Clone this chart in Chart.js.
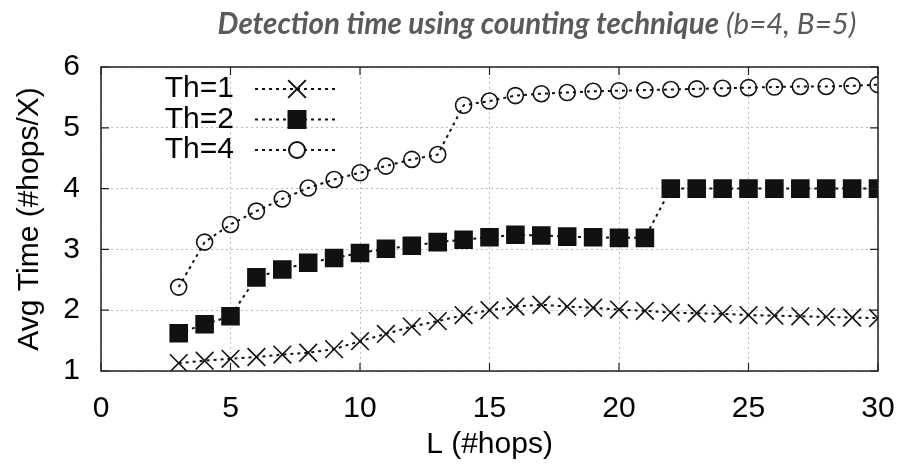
<!DOCTYPE html>
<html>
<head>
<meta charset="utf-8">
<script src="https://cdn.jsdelivr.net/npm/chart.js@4.4.1/dist/chart.umd.min.js"></script>
<style>
  html, body { margin: 0; padding: 0; background: #fff; }
</style>
</head>
<body>
<canvas id="chart" width="899" height="467"></canvas>
<script>
// path length L in hops
const hops = [3, 4, 5, 6, 7, 8, 9, 10, 11, 12, 13, 14, 15, 16, 17, 18, 19, 20, 21, 22, 23, 24, 25, 26, 27, 28, 29, 30]

// average detection time per threshold
const th1 = [1.13, 1.17, 1.20, 1.23, 1.27, 1.30, 1.36, 1.49, 1.61, 1.73, 1.82, 1.92, 2.00, 2.06, 2.09, 2.06, 2.04, 2.01, 1.99, 1.96, 1.95, 1.94, 1.92, 1.91, 1.90, 1.89, 1.88, 1.87]
const th2 = [1.62, 1.77, 1.90, 2.54, 2.67, 2.78, 2.86, 2.94, 3.01, 3.06, 3.12, 3.16, 3.20, 3.24, 3.23, 3.21, 3.20, 3.19, 3.19, 4.00, 4.00, 4.00, 4.00, 4.00, 4.00, 4.00, 4.00, 4.00]
const th4 = [2.38, 3.12, 3.41, 3.63, 3.83, 4.01, 4.15, 4.26, 4.37, 4.48, 4.56, 5.37, 5.44, 5.53, 5.56, 5.58, 5.60, 5.61, 5.62, 5.63, 5.64, 5.65, 5.66, 5.67, 5.68, 5.68, 5.69, 5.71]

const seriesNames = ["Th=1", "Th=2", "Th=4"]
const xTicks = [0, 5, 10, 15, 20, 25, 30]
const yTicks = [1, 2, 3, 4, 5, 6]

const axisFont = { family: "'Liberation Sans', Arial, sans-serif", size: 30 }
const titleFont = "29.5px Lato, 'Open Sans', sans-serif"

function pts(vals) {
    return hops.map((h, i) => ({ x: h, y: vals[i] }))
}

function series(label, vals, style, radius) {
    return {
        label: label,
        data: pts(vals),
        borderColor: "#111",
        borderWidth: 2,
        borderDash: [3, 4],
        pointStyle: style,
        pointRadius: radius,
        pointBorderColor: "#111",
        pointBorderWidth: 1.6,
        pointBackgroundColor: style == "rect" ? "#111" : "rgba(0,0,0,0)",
        tension: 0
    }
}

// plot frame with inward tick marks, like gnuplot
const framePlugin = {
    id: "frame",
    afterDraw(chart) {
        const ctx = chart.ctx
        const a = chart.chartArea
        const xs = chart.scales.x, ys = chart.scales.y
        ctx.save()
        ctx.strokeStyle = "#222"
        ctx.lineWidth = 1.5
        ctx.strokeRect(a.left, a.top, a.right - a.left, a.bottom - a.top)
        ctx.lineWidth = 1.2
        ctx.beginPath()
        for (v of xTicks) {
            const px = xs.getPixelForValue(v)
            ctx.moveTo(px, a.bottom); ctx.lineTo(px, a.bottom - 8)
            ctx.moveTo(px, a.top); ctx.lineTo(px, a.top + 8)
        }
        for (v of yTicks) {
            const py = ys.getPixelForValue(v)
            ctx.moveTo(a.left, py); ctx.lineTo(a.left + 8, py)
            ctx.moveTo(a.right, py); ctx.lineTo(a.right - 8, py)
        }
        ctx.stroke()
        ctx.restore()
    }
}

// legend inside the top-left corner of the plot
const keyPlugin = {
    id: "key",
    afterDatasetsDraw(chart) {
        const ctx = chart.ctx
        const a = chart.chartArea
        ctx.save()
        chart.data.datasets.forEach((ds, i) => {
            const y = a.top + 22 + i * 30.5
            ctx.fillStyle = "#000"
            ctx.font = "30px 'Liberation Sans', Arial, sans-serif"
            ctx.textAlign = "right"
            ctx.textBaseline = "middle"
            ctx.fillText(ds.label, a.left + 133, y)
            ctx.strokeStyle = ds.borderColor
            ctx.lineWidth = ds.borderWidth
            ctx.setLineDash(ds.borderDash)
            ctx.beginPath()
            ctx.moveTo(a.left + 154, y)
            ctx.lineTo(a.left + 238, y)
            ctx.stroke()
            ctx.setLineDash([])
            ctx.fillStyle = ds.pointStyle == "circle" ? "#fff" : ds.pointBackgroundColor
            ctx.strokeStyle = ds.pointBorderColor
            Chart.helpers.drawPoint(ctx, {
                pointStyle: ds.pointStyle,
                radius: ds.pointRadius,
                borderWidth: ds.pointBorderWidth
            }, a.left + 196, y)
        })
        ctx.restore()
    }
}

const titlePlugin = {
    id: "mixedTitle",
    afterDraw(chart) {
        const ctx = chart.ctx
        ctx.save()
        ctx.fillStyle = "#5a5a5a"
        ctx.textBaseline = "alphabetic"
        ctx.textAlign = "left"
        const boldPart = "Detection time using counting technique"
        const plainPart = " (b=4, B=5)"
        ctx.font = "italic bold " + titleFont
        const w1 = ctx.measureText(boldPart).width
        ctx.font = "italic " + titleFont
        const w2 = ctx.measureText(plainPart).width
        const x0 = 537 - (w1 + w2) / 2
        ctx.font = "italic bold " + titleFont
        ctx.fillText(boldPart, x0, 34)
        ctx.font = "italic " + titleFont
        ctx.fillText(plainPart, x0 + w1, 34)
        ctx.restore()
    }
}

new Chart(document.getElementById("chart"), {
    type: "line",
    data: {
        datasets: [
            series(seriesNames[0], th1, "crossRot", 12.5),
            series(seriesNames[1], th2, "rect", 12),
            series(seriesNames[2], th4, "circle", 8)
        ]
    },
    options: {
        responsive: false,
        devicePixelRatio: 1,
        animation: false,
        layout: { padding: { left: 0, right: 21, top: 67, bottom: 0 } },
        plugins: {
            legend: { display: false },
            title: { display: false },
            tooltip: { enabled: false }
        },
        scales: {
            x: {
                type: "linear",
                min: 0,
                max: 30,
                afterFit: s => { s.height = 96; s.paddingLeft = 0; s.paddingRight = 0 },
                afterBuildTicks: s => { s.ticks = xTicks.map(v => ({ value: v })) },
                ticks: { color: "#000", font: axisFont, padding: 20, maxRotation: 0 },
                grid: { color: "#bdbdbd", lineWidth: 1, drawTicks: false },
                border: { display: false, dash: [2, 3] },
                title: { display: true, text: "L (#hops)", color: "#000", font: axisFont, padding: { top: 0, bottom: 4 } }
            },
            y: {
                min: 1,
                max: 6,
                afterFit: s => { s.width = 101; s.paddingTop = 0; s.paddingBottom = 0 },
                afterBuildTicks: s => { s.ticks = yTicks.map(v => ({ value: v })) },
                ticks: { color: "#000", font: axisFont, padding: 21 },
                grid: { color: "#bdbdbd", lineWidth: 1, drawTicks: false },
                border: { display: false, dash: [2, 3] },
                title: { display: true, text: "Avg Time (#hops/X)", color: "#000", font: axisFont, padding: { top: 12, bottom: 0 } }
            }
        }
    },
    plugins: [framePlugin, keyPlugin, titlePlugin]
})
</script>
</body>
</html>
